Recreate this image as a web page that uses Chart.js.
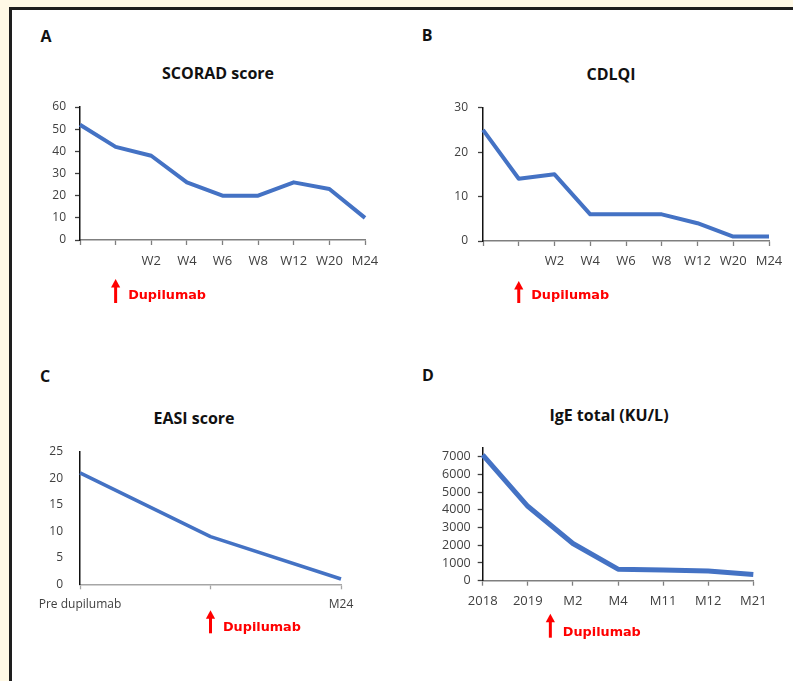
<!DOCTYPE html>
<html>
<head>
<meta charset="utf-8">
<script src="https://cdn.jsdelivr.net/npm/chart.js@4.4.1/dist/chart.umd.min.js"></script>
<style>
  html, body { margin: 0; padding: 0; }
  body { width: 793px; height: 681px; background: #FFF9E6; position: relative; overflow: hidden; font-family: "Open Sans", sans-serif; }
  #frame { position: absolute; left: 9px; top: 7px; width: 800px; height: 700px; background: #FFFFFF; border-left: 3px solid #1E1E1E; border-top: 3px solid #1E1E1E; box-sizing: border-box; }
  canvas { position: absolute; }
  .txt { position: absolute; white-space: nowrap; font-weight: bold; color: #111111; transform: translateX(-50%); line-height: 20px; }
  .letter { font-size: 16px; }
  .title { font-size: 16px; }
</style>
</head>
<body>
<div id="frame"></div>

<div class="txt letter" style="left:46px; top:26px;">A</div>
<div class="txt letter" style="left:427px; top:25px;">B</div>
<div class="txt letter" style="left:45px; top:366px;">C</div>
<div class="txt letter" style="left:428px; top:365px;">D</div>

<div class="txt title" style="left:218px; top:63px;">SCORAD score</div>
<div class="txt title" style="left:611px; top:64px;">CDLQI</div>
<div class="txt title" style="left:194px; top:408px;">EASI score</div>
<div class="txt title" style="left:609px; top:405px;">IgE total (KU/L)</div>

<canvas id="cA" width="375" height="300" style="left:20px; top:20px;"></canvas>
<canvas id="cB" width="383" height="300" style="left:410px; top:20px;"></canvas>
<canvas id="cC" width="375" height="310" style="left:20px; top:350px;"></canvas>
<canvas id="cD" width="383" height="310" style="left:410px; top:350px;"></canvas>

<script>
// ---------------- DATA ----------------
const scoradLabels = ["", "", "W2", "W4", "W6", "W8", "W12", "W20", "M24"];
const scoradValues = [52, 42, 38, 26, 20, 20, 26, 23, 10];
const scoradYTicks = [0, 10, 20, 30, 40, 50, 60];
const scoradDupilumabAt = 1;

const cdlqiLabels = ["", "", "W2", "W4", "W6", "W8", "W12", "W20", "M24"];
const cdlqiValues = [25, 14, 15, 6, 6, 6, 4, 1, 1];
const cdlqiYTicks = [0, 10, 20, 30];
const cdlqiDupilumabAt = 1;

const easiLabels = ["Pre dupilumab", "", "M24"];
const easiValues = [21, 9, 1];
const easiYTicks = [0, 5, 10, 15, 20, 25];
const easiDupilumabAt = 1;

const igeLabels = ["2018", "2019", "M2", "M4", "M11", "M12", "M21"];
const igeValues = [7100, 4200, 2100, 650, 600, 550, 350];
const igeYTicks = [0, 1000, 2000, 3000, 4000, 5000, 6000, 7000];
const igeDupilumabAt = 1.5;

// ---------------- CHARTS ----------------
Chart.defaults.font.family = "'Open Sans', sans-serif";
Chart.defaults.color = '#404040';

const dupilumabMarker = {
  id: 'dupilumabMarker',
  afterDraw(chart, args, o) {
    const { ctx, chartArea, scales } = chart;
    const x = scales.x.getPixelForValue(o.at);
    const b = chartArea.bottom;
    ctx.save();
    ctx.strokeStyle = '#FF0000';
    ctx.fillStyle = '#FF0000';
    ctx.lineWidth = 3;
    ctx.beginPath();
    ctx.moveTo(x, b + o.tip + 6);
    ctx.lineTo(x, b + o.tail);
    ctx.stroke();
    ctx.beginPath();
    ctx.moveTo(x, b + o.tip);
    ctx.lineTo(x - 4.6, b + o.tip + 8.5);
    ctx.lineTo(x + 4.6, b + o.tip + 8.5);
    ctx.closePath();
    ctx.fill();
    ctx.font = 'bold 12.8px "DejaVu Sans"';
    ctx.textAlign = 'left';
    ctx.textBaseline = 'alphabetic';
    ctx.fillText('Dupilumab', x + o.dx, b + o.baseline);
    ctx.restore();
  }
};

function makePanel(id, labels, values, yTicks, yMax, dupAt, g) {
  return new Chart(document.getElementById(id), {
    type: 'line',
    data: {
      labels: labels,
      datasets: [{
        data: values,
        borderColor: '#4472C4',
        borderWidth: g.lineWidth,
        pointRadius: 0,
        tension: 0,
        fill: false,
        clip: false,
        borderJoinStyle: 'round',
        borderCapStyle: 'butt'
      }]
    },
    options: {
      responsive: false,
      animation: false,
      events: [],
      layout: { padding: { top: g.padTop, right: g.padRight, bottom: 0, left: 0 } },
      plugins: {
        legend: { display: false },
        tooltip: { enabled: false },
        title: { display: false },
        dupilumabMarker: { at: dupAt, tip: g.tip, tail: g.tail, dx: 12.5, baseline: g.baseline }
      },
      scales: {
        x: {
          type: 'category',
          offset: false,
          grid: { display: true, drawOnChartArea: false, drawTicks: true, tickLength: 5, tickColor: g.xColor, tickWidth: 1.3, offset: false },
          border: { display: true, color: g.xColor, width: 1.5 },
          ticks: { autoSkip: false, maxRotation: 0, minRotation: 0, padding: g.xPad, color: '#404040', font: { size: g.xFont } },
          afterFit(scale) { scale.height = g.xHeight; }
        },
        y: {
          type: 'linear',
          min: 0,
          max: yMax,
          grid: { display: g.yTicksShown, drawOnChartArea: false, drawTicks: g.yTicksShown, tickLength: 5, tickColor: '#404040', tickWidth: 1.3 },
          border: { display: true, color: '#111111', width: 1.5 },
          ticks: { padding: g.yPad, color: '#404040', font: { size: g.yFont }, callback: (v) => String(v) },
          afterBuildTicks(axis) { axis.ticks = yTicks.map(v => ({ value: v })); },
          afterFit(scale) { scale.width = g.yWidth; }
        }
      }
    },
    plugins: [dupilumabMarker]
  });
}

// Panel A : chart area 80..365 x 107..240 (page)
makePanel('cA', scoradLabels, scoradValues, scoradYTicks, 60, scoradDupilumabAt, {
  padTop: 87, padRight: 30, yWidth: 60, xHeight: 80, lineWidth: 4,
  xColor: '#7F7F7F', xPad: 8, xFont: 13, yPad: 9, yFont: 12, yTicksShown: true,
  tip: 39, tail: 63, baseline: 59
});

// Panel B : chart area 483..769 x 107.7..241
makePanel('cB', cdlqiLabels, cdlqiValues, cdlqiYTicks, 30, cdlqiDupilumabAt, {
  padTop: 87.7, padRight: 24, yWidth: 73, xHeight: 79, lineWidth: 4,
  xColor: '#7F7F7F', xPad: 7.5, xFont: 13, yPad: 10, yFont: 12, yTicksShown: true,
  tip: 40, tail: 62, baseline: 58
});

// Panel C : chart area 80..341 x 451.7..584.3
makePanel('cC', easiLabels, easiValues, easiYTicks, 25, easiDupilumabAt, {
  padTop: 101.7, padRight: 54, yWidth: 60, xHeight: 75.7, lineWidth: 3.5,
  xColor: '#A6A6A6', xPad: 8, xFont: 12, yPad: 17, yFont: 12, yTicksShown: false,
  tip: 26, tail: 49, baseline: 46.5
});

// Panel D : chart area 482.7..753.3 x 447.8..580.7
makePanel('cD', igeLabels, igeValues, igeYTicks, 7500, igeDupilumabAt, {
  padTop: 97.8, padRight: 39.7, yWidth: 72.7, xHeight: 79.3, lineWidth: 5,
  xColor: '#7F7F7F', xPad: 8, xFont: 13, yPad: 7, yFont: 12.5, yTicksShown: true,
  tip: 33, tail: 57, baseline: 55
});
</script>
</body>
</html>
